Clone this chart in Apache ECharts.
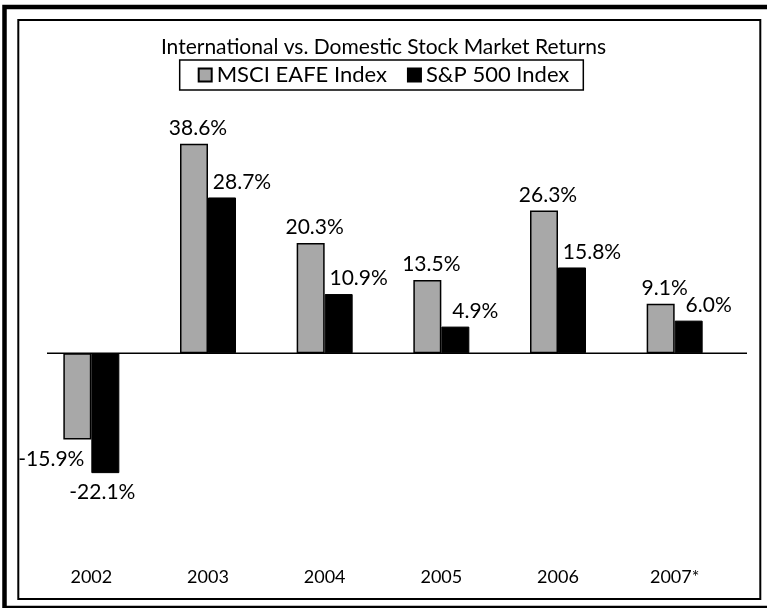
<!DOCTYPE html>
<html>
<head>
<meta charset="utf-8">
<script src="https://cdn.jsdelivr.net/npm/echarts@6/dist/echarts.min.js"></script>
<style>
  html, body { margin: 0; padding: 0; background: #fff; }
  #chart { width: 767px; height: 608px; }
</style>
</head>
<body>
<div id="chart"></div>
<script>
const categories = ['2002', '2003', '2004', '2005', '2006', '2007*'];
const eafeReturns = [-15.9, 38.6, 20.3, 13.5, 26.3, 9.1];
const spReturns = [-22.1, 28.7, 10.9, 4.9, 15.8, 6.0];
const seriesNames = ['MSCI EAFE Index', 'S&P 500 Index'];

const FONT = 'Lato';
const chart = echarts.init(document.getElementById('chart'));

// labels sit above positive bars, below negative ones
function withLabels(values, posOffset, negOffset) {
  return values.map((v) => ({
    value: v,
    label: v < 0
      ? { position: 'bottom', offset: negOffset, distance: 9 }
      : { position: 'top', offset: posOffset, distance: 5 },
  }));
}

const labelStyle = {
  show: true,
  color: '#000',
  fontFamily: FONT,
  fontSize: 21,
  formatter: (p) => p.value.toFixed(1) + '%',
};

const option = {
  animation: false,
  title: {
    text: 'International vs. Domestic Stock Market Returns',
    left: 'center',
    top: 32,
    textStyle: { fontFamily: FONT, fontSize: 21, fontWeight: 'normal', color: '#000' },
  },
  legend: {
    top: 60,
    left: 'center',
    icon: 'rect',
    itemWidth: 13,
    itemHeight: 13,
    itemGap: 20,
    padding: [4, 14, 4, 18],
    borderColor: '#000',
    borderWidth: 1.5,
    textStyle: { fontFamily: FONT, fontSize: 22, color: '#000' },
    data: seriesNames,
  },
  grid: { left: 33, right: 34, top: 109, bottom: 92 },
  xAxis: {
    type: 'category',
    data: categories,
    axisLine: { show: false },
    axisTick: { show: false },
    axisLabel: { margin: 52, color: '#000', fontFamily: FONT, fontSize: 18 },
  },
  yAxis: {
    type: 'value',
    min: -30,
    max: 45,
    show: false,
    splitLine: { show: false },
  },
  series: [
    {
      name: seriesNames[0],
      type: 'bar',
      barWidth: 28,
      barGap: '0%',
      data: withLabels(eafeReturns, [4, 0], [-26, 0]),
      itemStyle: { color: '#a8a8a8', borderColor: '#000', borderWidth: 1.5 },
      label: labelStyle,
    },
    {
      name: seriesNames[1],
      type: 'bar',
      barWidth: 28,
      data: withLabels(spReturns, [20, 0], [-3, 0]),
      itemStyle: { color: '#000', borderColor: '#000', borderWidth: 1 },
      label: labelStyle,
    },
  ],
};

chart.setOption(option);

// frames and the zero baseline
const zeroY = chart.convertToPixel({ yAxisIndex: 0 }, 0);
chart.setOption({
  graphic: [
    { type: 'rect', shape: { x: 4.5, y: 7, width: 780, height: 601 }, style: { fill: 'none', stroke: '#000', lineWidth: 4.5 }, silent: true },
    { type: 'rect', shape: { x: 18.3, y: 20, width: 742, height: 579 }, style: { fill: 'none', stroke: '#000', lineWidth: 2 }, silent: true },
    { type: 'line', shape: { x1: 47, y1: zeroY, x2: 747, y2: zeroY }, style: { stroke: '#000', lineWidth: 1.6 }, silent: true, z: 10 },
  ],
});
</script>
</body>
</html>
